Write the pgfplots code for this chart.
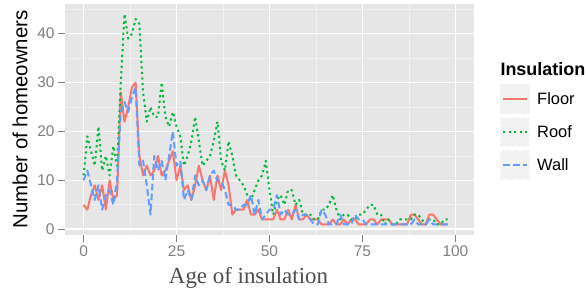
\documentclass[border=0pt]{standalone}
\usepackage{pgfplots}
\usepackage{pgfplotstable}
\pgfplotsset{compat=1.18}
\usepackage{fontspec}
\setmainfont{Liberation Sans}
\newfontfamily\serifx{Liberation Serif}
\definecolor{panelbg}{HTML}{E6E6E6}
\definecolor{minorgrid}{HTML}{F2F2F2}
\definecolor{keybg}{HTML}{F2F2F2}
\definecolor{tickgrey}{HTML}{7F7F7F}
\definecolor{floorc}{HTML}{F8766D}
\definecolor{roofc}{HTML}{00BA38}
\definecolor{wallc}{HTML}{619CFF}
\definecolor{xlabc}{HTML}{4D4D4D}

\pgfplotstableread{
x floor roof wall
0 5 11 10
1 4 19 12
2 7 16 9
3 9 13 6
4 6 21 9
5 9 12 4
6 4 15 7
7 10 11 8
8 6 17 5
9 7 13 10
10 28 30 24
11 22 44 26
12 25 39 24
13 29 40 27
14 30 43 29
15 15 42 13
16 11 28 14
17 13 22 9
18 11 25 3
19 12 23 15
20 15 23 12
21 11 30 14
22 12 23 10
23 14 21 15
24 16 24 20
25 10 21 13
26 13 19 14
27 8 13 6
28 9 15 8
29 6 18 6
30 9 23 11
31 13 18 9
32 10 13 10
33 8 14 8
34 11 15 11
35 6 18 12
36 11 22 10
37 8 14 10
38 12 12 8
39 9 18 5
40 3 15 5
41 4 11 4
42 4 10 4
43 4 9 5
44 6 7 5
45 3 6 7
46 3 8 3
47 4 10 6
48 2 11 2
49 2 14 3
50 2 8 4
51 2 3 4
52 4 6 7
53 2 7 3
54 2 5 4
55 4 8 3
56 2 8 3
57 5 5 4
58 2 6 2
59 2 3 3
60 3 3 3
61 2 3 2
62 2 2 1
63 2 2 1
64 1 4 4
65 1 4 3
66 1 5 1
67 2 7 1
68 1 4 1
69 1 2 3
70 2 3 1
71 1 3 1
72 2 2 1
73 2 2 3
74 1 3 2
75 1 3 2
76 1 4 1
77 2 5 1
78 2 5 1
79 1 3 1
80 2 3 1
81 2 1 1
82 2 2 1
83 1 1 1
84 1 1 1
85 1 2 1
86 1 2 1
87 1 2 1
88 3 2 1
89 3 3 2
90 2 3 1
91 1 2 1
92 1 1 1
93 3 2 2
94 3 2 1
95 2 1 1
96 1 1 1
97 1 2 1
98 1 2 1
}\data

\begin{document}
\begin{tikzpicture}
\useasboundingbox (0,0) rectangle (585bp,292bp);
\begin{axis}[
  at={(65bp,57.1bp)}, anchor=south west,
  width=409bp, height=231.3bp, scale only axis,
  xmin=-5, xmax=105, ymin=-1.15, ymax=46.15,
  axis background/.style={fill=panelbg},
  axis line style={draw=none},
  xtick={0,25,50,75,100}, ytick={0,10,20,30,40},
  minor xtick={12.5,37.5,62.5,87.5}, minor ytick={5,15,25,35,45},
  grid=both,
  major grid style={white, line width=1.6bp},
  minor grid style={minorgrid, line width=0.8bp},
  tick pos=left, tick align=outside,
  major tick length=7bp, minor tick length=0bp,
  tick style={tickgrey, line width=1bp},
  /pgf/number format/assume math mode=true,
  ticklabel style={font=\fontsize{15.5}{16}\selectfont, text=tickgrey},
  xlabel={\serifx Age of insulation},
  xlabel style={at={(axis description cs:0.4487,0)}, anchor=base, yshift=-48.1bp,
    font=\fontsize{23}{24}\selectfont, text=xlabc},
  ylabel={Number of homeowners},
  ylabel style={at={(axis description cs:-0.110,0.5)}, anchor=center,
    font=\fontsize{20.5}{22}\selectfont, text=black},
  legend style={at={(axis description cs:1.0636,0.6524)}, anchor=north west,
    draw=none, fill=none, inner sep=0pt, row sep=3bp, column sep=7bp,
    font=\fontsize{16.5}{18}\selectfont, nodes={inner sep=0pt}},
  legend cell align=left,
  legend image code/.code={
    \fill[keybg] (0bp,-14bp) rectangle (28bp,14bp);
    \draw[#1, line width=2bp] (2bp,0bp) -- (26bp,0bp);},
]
\addplot[floorc, line width=2bp, line join=round] table[x=x, y=floor] {\data};
\addlegendentry{Floor}
\addplot[roofc, line width=2bp, dash pattern=on 2.2bp off 3.3bp, line join=round] table[x=x, y=roof] {\data};
\addlegendentry{Roof}
\addplot[wallc, line width=2bp, dash pattern=on 6.5bp off 3.5bp, line join=round] table[x=x, y=wall] {\data};
\addlegendentry{Wall}
\end{axis}
\node[anchor=base west, font=\bfseries\fontsize{18}{20}\selectfont] at (497bp,216bp) {Insulation};
\end{tikzpicture}
\end{document}
